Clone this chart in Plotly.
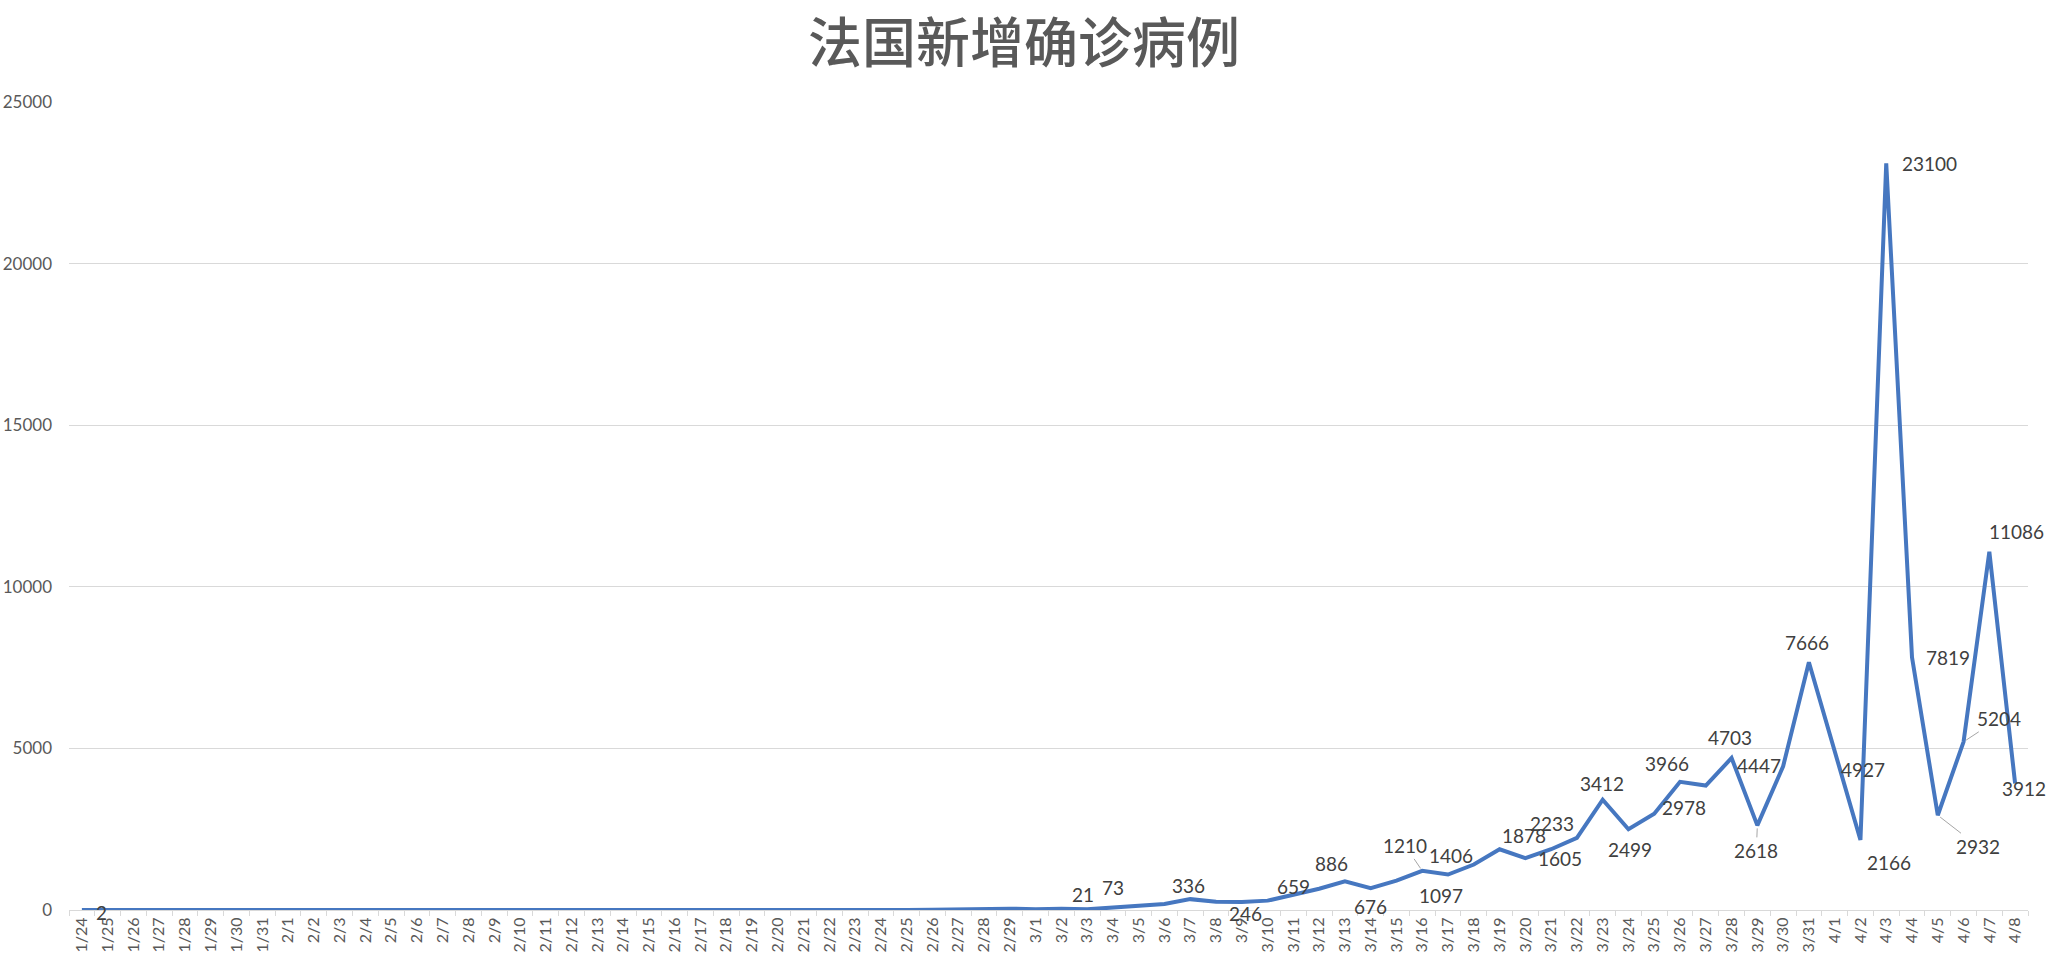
import plotly.graph_objects as go

# ---- data ----
dates = [
    "1/24", "1/25", "1/26", "1/27", "1/28", "1/29", "1/30", "1/31",
    "2/1", "2/2", "2/3", "2/4", "2/5", "2/6", "2/7", "2/8", "2/9", "2/10",
    "2/11", "2/12", "2/13", "2/14", "2/15", "2/16", "2/17", "2/18", "2/19",
    "2/20", "2/21", "2/22", "2/23", "2/24", "2/25", "2/26", "2/27", "2/28", "2/29",
    "3/1", "3/2", "3/3", "3/4", "3/5", "3/6", "3/7", "3/8", "3/9", "3/10",
    "3/11", "3/12", "3/13", "3/14", "3/15", "3/16", "3/17", "3/18", "3/19", "3/20",
    "3/21", "3/22", "3/23", "3/24", "3/25", "3/26", "3/27", "3/28", "3/29", "3/30",
    "3/31", "4/1", "4/2", "4/3", "4/4", "4/5", "4/6", "4/7", "4/8",
]
new_cases = [
    2, 1, 0, 0, 1, 1, 0, 0,
    1, 0, 0, 0, 0, 0, 0, 5, 0, 0,
    0, 0, 0, 0, 1, 0, 0, 0, 0,
    0, 0, 0, 0, 0, 2, 4, 18, 20, 40,
    25, 40, 21, 73, 120, 185, 336, 255, 246, 290,
    470, 659, 886, 676, 910, 1210, 1097, 1406, 1878, 1605,
    1880, 2233, 3412, 2499, 2978, 3966, 3850, 4703, 2618, 4447,
    7666, 4927, 2166, 23100, 7819, 2932, 5204, 11086, 3912,
]
# dates that carry a data label in the original chart
labeled_dates = [
    "1/24", "3/3", "3/4", "3/7", "3/9", "3/12", "3/13", "3/14", "3/16", "3/17",
    "3/18", "3/19", "3/20", "3/22", "3/23", "3/24", "3/25", "3/26", "3/28", "3/29",
    "3/30", "3/31", "4/1", "4/2", "4/3", "4/4", "4/5", "4/6", "4/7", "4/8",
]
y_ticks = [0, 5000, 10000, 15000, 20000, 25000]
title_text = "法国新增确诊病例"

# ---- label placement (pixel offsets: dx right, dy up; leader = drawn with a leader line) ----
label_pos = {
    "1/24": (20, -3, False), "3/3": (-4, 15, False), "3/4": (0, 20, False),
    "3/7": (-2, 14, False), "3/9": (4, -11, False), "3/12": (-26, 2, False),
    "3/13": (-13, 18, False), "3/14": (0, -18, False), "3/16": (-17, 25, True),
    "3/17": (-7, -21, False), "3/18": (-23, 9, False), "3/19": (24, 14, False),
    "3/20": (35, 0, False), "3/22": (-25, 14, False), "3/23": (-1, 16, False),
    "3/24": (2, -20, False), "3/25": (30, 6, False), "3/26": (-13, 18, False),
    "3/28": (-2, 21, False), "3/29": (-1, -25, True), "3/30": (-24, 1, False),
    "3/31": (-2, 20, False), "4/1": (28, -19, False), "4/2": (29, -23, False),
    "4/3": (43, 0, False), "4/4": (36, 0, False), "4/5": (40, -31, True),
    "4/6": (35, 23, True), "4/7": (27, 20, False), "4/8": (9, -5, False),
}

FONT = "Lato, 'Noto Sans', sans-serif"

fig = go.Figure()
fig.add_trace(go.Scatter(
    x=dates, y=new_cases, mode="lines",
    line=dict(color="#4677C0", width=4),
    hoverinfo="x+y", showlegend=False,
))

value_of = dict(zip(dates, new_cases))
annotations = []
for d in labeled_dates:
    v = value_of[d]
    dx, dy, leader = label_pos[d]
    if leader:
        annotations.append(dict(
            x=d, y=v, xref="x", yref="y", text=str(v),
            showarrow=True, arrowhead=0, arrowwidth=1, arrowcolor="#A6A6A6",
            ax=dx, ay=-dy, standoff=3,
            font=dict(family=FONT, size=19, color="#404040"),
        ))
    else:
        annotations.append(dict(
            x=d, y=v, xref="x", yref="y", text=str(v),
            showarrow=False, xshift=dx, yshift=dy,
            font=dict(family=FONT, size=19, color="#404040"),
        ))

fig.update_layout(
    width=2048, height=957,
    paper_bgcolor="white", plot_bgcolor="white",
    margin=dict(l=69, r=20, t=102, b=47, autoexpand=False),
    title=dict(
        text=title_text, x=0.5, xanchor="center", y=1 - 44 / 957, yanchor="middle",
        font=dict(family="'Noto Sans CJK SC', sans-serif", size=54, color="#595959",
                  weight=500),
    ),
    annotations=annotations,
    xaxis=dict(
        type="category", categoryorder="array", categoryarray=dates,
        range=[-0.5, len(dates) - 0.5],
        tickmode="array", tickvals=dates, ticktext=dates,
        tickangle=-90, tickson="boundaries", ticks="outside", ticklen=5,
        tickcolor="#D9D9D9", showline=True, linecolor="#D9D9D9", linewidth=1,
        showgrid=False, zeroline=False,
        tickfont=dict(family=FONT, size=16, color="#595959"),
        automargin=False, fixedrange=True,
    ),
    yaxis=dict(
        range=[0, 25000], tickmode="array", tickvals=y_ticks,
        ticktext=[str(t) for t in y_ticks],
        showgrid=True, gridcolor="#D9D9D9", gridwidth=1,
        showline=False, zeroline=False, ticks="",
        ticklabelstandoff=16,
        tickfont=dict(family=FONT, size=17, color="#595959"),
        automargin=False, fixedrange=True,
    ),
)

fig.write_html(
    "out.html",
    config={"displayModeBar": False},
    post_script="document.body.style.margin='0px';document.body.style.overflow='hidden';",
)
